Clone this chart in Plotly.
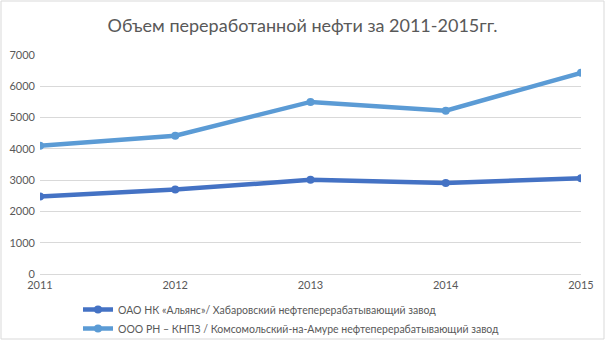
import plotly.graph_objects as go

years = [2011, 2012, 2013, 2014, 2015]
series1_name = "ОАО НК «Альянс»/ Хабаровский нефтеперерабатывающий завод"
series1 = [2480, 2700, 3010, 2910, 3060]
series2_name = "ООО РН – КНПЗ / Комсомольский-на-Амуре нефтеперерабатывающий завод"
series2 = [4100, 4420, 5500, 5220, 6430]
title = "Объем переработанной нефти за 2011-2015гг."

W, H = 605, 340
L, R, T, B = 40, 24, 55, 66

fig = go.Figure()
fig.add_trace(go.Scatter(x=years, y=series1, name=series1_name, mode="lines+markers",
                         line=dict(color="#4472C4", width=4.5),
                         marker=dict(size=8, color="#4472C4")))
fig.add_trace(go.Scatter(x=years, y=series2, name=series2_name, mode="lines+markers",
                         line=dict(color="#5B9BD5", width=4.5),
                         marker=dict(size=8, color="#5B9BD5")))

pw = W - L - R
ph = H - T - B
fig.update_layout(
    width=W, height=H,
    margin=dict(l=L, r=R, t=T, b=B, autoexpand=False),
    paper_bgcolor="white", plot_bgcolor="white",
    font=dict(family="Lato, 'Open Sans', sans-serif", color="#595959", size=11),
    title=dict(text=title, x=0.5, xanchor="center", y=1 - 26 / H, yanchor="middle",
               font=dict(size=18, color="#595959")),
    xaxis=dict(range=[2011, 2015], tickvals=years, ticktext=[str(y) for y in years],
               showgrid=False, zeroline=False, showline=False, ticks="",
               tickfont=dict(size=11, color="#595959"), fixedrange=True,
               ticklabelstandoff=3),
    yaxis=dict(range=[0, 7000], dtick=1000, showgrid=True, gridcolor="#D9D9D9", gridwidth=1,
               zeroline=True, zerolinecolor="#D9D9D9", zerolinewidth=1, showline=False, ticks="",
               tickfont=dict(size=11, color="#595959"), ticklabelstandoff=4),
    legend=dict(orientation="v", x=(78 - L) / pw, xanchor="left",
                y=-(295 - (H - B)) / ph, yanchor="top",
                font=dict(size=10.5, color="#595959"), itemwidth=30,
                tracegroupgap=0, bgcolor="rgba(0,0,0,0)"),
    shapes=[dict(type="rect", xref="paper", yref="paper",
                 x0=-(L - 1) / pw, x1=1 + (R - 1) / pw,
                 y0=-(B - 1) / ph, y1=1 + (T - 1) / ph,
                 line=dict(color="#D9D9D9", width=1), fillcolor="rgba(0,0,0,0)", layer="below")],
)

fig.write_html("out.html")
